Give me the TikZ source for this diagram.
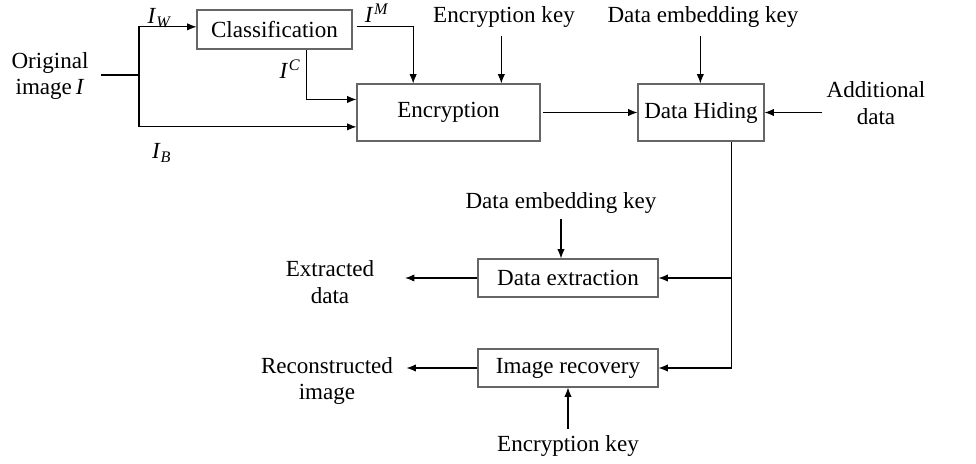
\documentclass[tikz,border=0pt]{standalone}
\usepackage{fontspec}
\setmainfont{Liberation Serif}
\usetikzlibrary{calc,arrows.meta}
\newcommand{\imgvar}[2]{\textit{I}\textsubscript{\textit{#1}}\textsuperscript{\textit{#2}}}
\begin{document}
\begin{tikzpicture}[
    x=0.75pt, y=-0.75pt,
    font=\fontsize{17.3}{20}\selectfont,
    blockbox/.style={draw=black!60, line width=0.8pt, fill=white, inner sep=0pt, minimum height=42.75pt},
    lbl/.style={align=center, inner sep=1pt},
    flow/.style={-{Latex[length=7pt,width=5.5pt]}, line width=0.8pt}
  ]
    \useasboundingbox (0,0) rectangle (976,464);

    \node[blockbox, minimum width=116.25pt, minimum height=29.25pt] (classif) at (274.5,29.5) {Classification};
    \node[blockbox, minimum width=137.25pt] (encrypt) at (448.5,112.5) {Encryption};
    \node[blockbox, minimum width=94.5pt] (hiding) at (701,112.5) {Data Hiding};
    \node[blockbox, minimum width=135pt, minimum height=28.5pt] (extract) at (568,278) {Data extraction};
    \node[blockbox, minimum width=135pt, minimum height=28.5pt] (recover) at (568,368) {Image recovery};

    \node[lbl] (orig) at (50,76) {Original\\image\,\textit{I}};
    \node[lbl] (iw) at (160,18) {\imgvar{W}{}};
    \node[lbl] (ib) at (162,153) {\imgvar{B}{}};
    \node[lbl] (ic) at (290,71) {\imgvar{}{C}};
    \node[lbl] (im) at (377,15) {\imgvar{}{M}};
    \node[lbl] (enckey) at (504,17) {Encryption key};
    \node[lbl] (embkey) at (703,17) {Data embedding key};
    \node[lbl] (adddata) at (876,103) {Additional\\data};
    \node[lbl] (embkeyb) at (561,203) {Data embedding key};
    \node[lbl] (extdata) at (330,282) {Extracted\\data};
    \node[lbl] (recimg) at (327,381) {Reconstructed\\image};
    \node[lbl] (enckeyb) at (568,446) {Encryption key};

    \coordinate (split) at (139,75);
    \coordinate (bus) at ([xshift=23pt]hiding.south);

    \draw[line width=0.8pt] ([xshift=8pt]orig.east |- split) -- (split);
    \draw[flow] (split) |- ([yshift=2pt]classif.west);
    \draw[flow] (split) |- ([yshift=11pt]encrypt.south west);
    \draw[flow] ([xshift=24pt]classif.south) |- ([yshift=-12pt]encrypt.north west);
    \draw[flow] ([xshift=3pt,yshift=2pt]classif.east) -| ([xshift=-26.5pt]encrypt.north);
    \draw[flow] ([xshift=-2pt,yshift=-5pt]enckey.south) -- ([xshift=-2pt]enckey.south |- encrypt.north);
    \draw[flow] ([xshift=2pt]encrypt.east) -- (hiding.west);
    \draw[flow] ([xshift=-2pt,yshift=-5pt]embkey.south) -- ([xshift=-2pt]embkey.south |- hiding.north);
    \draw[flow] ([xshift=-2pt]adddata.west |- hiding.east) -- (hiding.east);
    \draw[flow] (bus) |- (recover.east);
    \draw[flow] (bus |- extract.east) -- (extract.east);
    \draw[flow] ([yshift=-3pt]embkeyb.south) -- (embkeyb.south |- extract.north);
    \draw[flow, shorten >=22pt] (extract.west) -- (extdata.east |- extract.west);
    \draw[flow, shorten >=9pt] (recover.west) -- (recimg.east |- recover.west);
    \draw[flow] ([yshift=4pt]enckeyb.north) -- (recover.south);
\end{tikzpicture}
\end{document}
